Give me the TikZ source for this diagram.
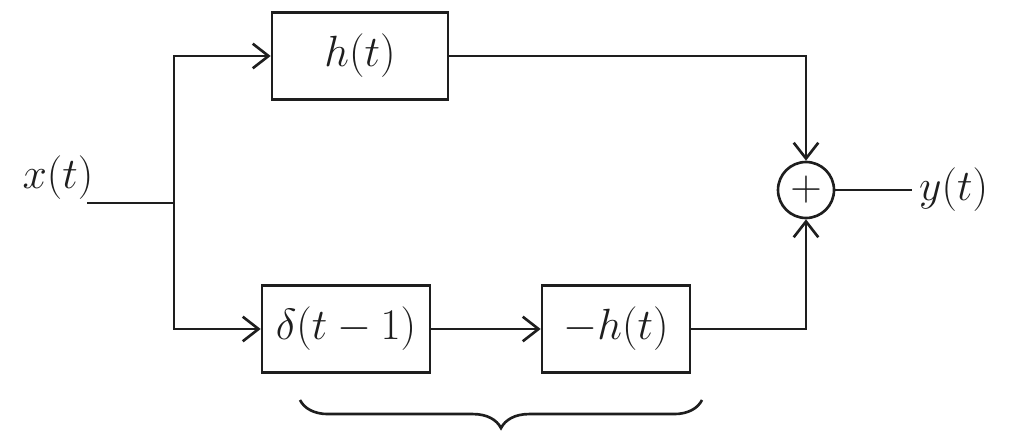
\documentclass[tikz,border=0pt]{standalone}
\usepackage{amsmath,amssymb}
\usepackage{xcolor}
\usepackage{tikz}
\usetikzlibrary{arrows.meta,positioning,calc,decorations.pathreplacing}
\definecolor{inkgray}{RGB}{30, 30, 30}

\begin{document}
\begin{tikzpicture}[x=0.02cm,y=-0.02cm,line width=1.5pt,inkgray,
    >={Straight Barb[length=9pt,width=14pt]},
    block/.style={draw,minimum height=1.74cm,font=\fontsize{30}{36}\selectfont},
    lbl/.style={font=\fontsize{30}{36}\selectfont}]
    \useasboundingbox (0,0) rectangle (1023,439);
    % blocks
    \node[block,minimum width=3.52cm] (hbox) at (360,56) {$h(t)$};
    \node[block,minimum width=3.36cm] (dbox) at (346,329) {$\delta(t-1)$};
    \node[block,minimum width=2.96cm] (nbox) at (616,329) {$-h(t)$};
    \node[draw,circle,minimum size=1.12cm,inner sep=0pt,font=\fontsize{26}{30}\selectfont] (sum) at (806,190) {$+$};
    % input and output
    \node[lbl] (xlbl) at (58,178) {$x(t)$};
    \coordinate (xin) at (87,203);
    \coordinate (junc) at (174,203);
    \node[lbl,anchor=west] (ylbl) at (912,190) {$y(t)$};
    % connectors
    \draw (xin) -- (junc);
    \draw[->] (junc) |- (hbox.west);
    \draw[->] (junc) |- (dbox.west);
    \draw[->] (dbox.east) -- (nbox.west);
    \draw[->] (hbox.east) -| (sum.north);
    \draw[->] (nbox.east) -| (sum.south);
    \draw (sum.east) -- (ylbl.west);
    % brace
    \draw[decorate,decoration={brace,mirror,amplitude=16pt}] (300,400) -- (702,400);
\end{tikzpicture}
\end{document}
